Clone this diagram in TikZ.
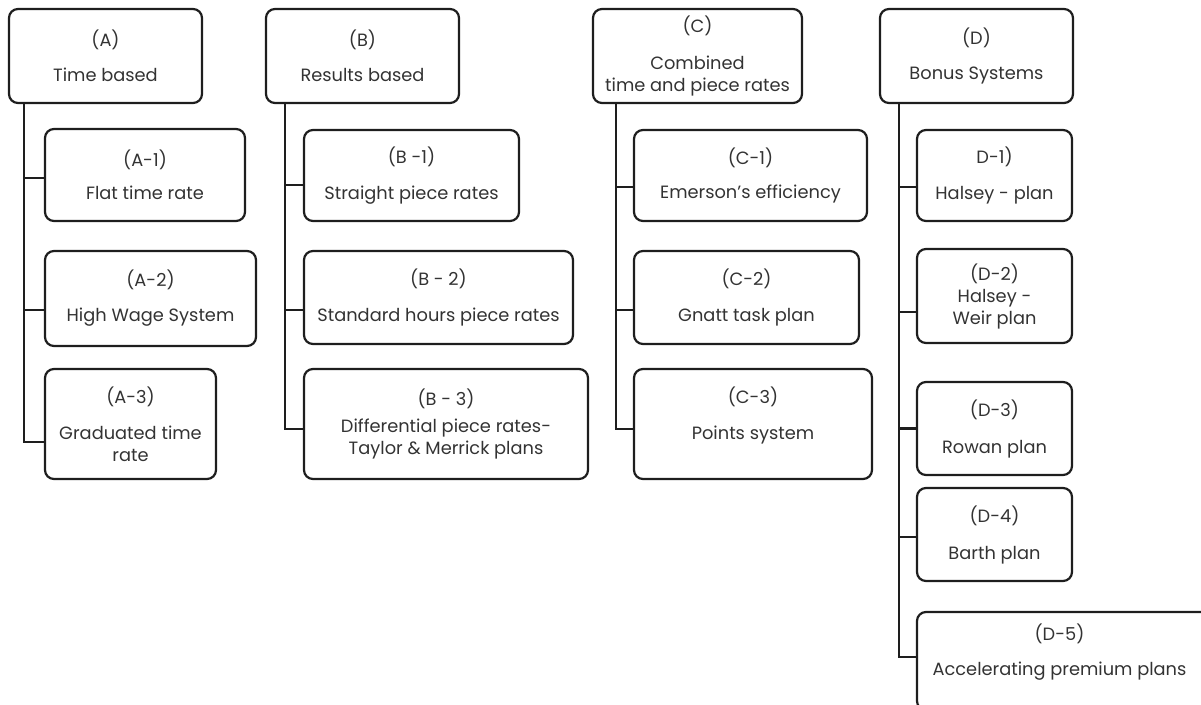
\documentclass[tikz,border=0pt]{standalone}
\usepackage{fontspec}
\setmainfont{Poppins}
\definecolor{boxline}{HTML}{1E1E1E}
\definecolor{boxtext}{HTML}{333333}
\tikzset{
  plan/.style={draw=boxline, line width=2.2pt, rounded corners=9pt, align=center,
    inner sep=0pt, text=boxtext, font=\fontsize{17.8}{22}\selectfont},
  trunk/.style={draw=boxline, line width=2.2pt}
}
\begin{document}
\begin{tikzpicture}[x=1pt,y=-1pt]
\clip (0,0) rectangle (1201,704);
% main groups
\node[plan, minimum width=193pt, minimum height=94pt] (A) at (105.5,56) {(A)\\[13pt]Time based};
\node[plan, minimum width=193pt, minimum height=94pt] (B) at (362.5,56) {(B)\\[13pt]Results based};
\node[plan, minimum width=209pt, minimum height=94pt] (C) at (697.5,56) {(C)\\[15pt]Combined\\time and piece rates};
\node[plan, minimum width=193pt, minimum height=94pt] (D) at (976.5,56) {(D)\\[13pt]Bonus Systems};
% time based
\node[plan, minimum width=200pt, minimum height=92pt] (A1) at (145,175) {(A-1)\\[11pt]Flat time rate};
\node[plan, minimum width=211pt, minimum height=95pt] (A2) at (150.5,298.5) {(A-2)\\[13pt]High Wage System};
\node[plan, minimum width=171pt, minimum height=110pt] (A3) at (130.5,424) {(A-3)\\[14pt]Graduated time\\rate};
% results based
\node[plan, minimum width=215pt, minimum height=91pt] (B1) at (411.5,175.5) {(B -1)\\[14pt]Straight piece rates};
\node[plan, minimum width=269pt, minimum height=93pt] (B2) at (438.5,297.5) {(B - 2)\\[14pt]Standard hours piece rates};
\node[plan, minimum width=284pt, minimum height=110pt] (B3) at (446,424) {(B - 3)\\[5pt]Differential piece rates-\\Taylor \& Merrick plans};
% combined
\node[plan, minimum width=233pt, minimum height=91pt] (C1) at (750.5,175.5) {(C-1)\\[12pt]Emerson’s efficiency};
\node[plan, minimum width=225pt, minimum height=93pt] (C2) at (746.5,297.5) {(C-2)\\[14pt]Gnatt task plan};
\node[plan, minimum width=238pt, minimum height=110pt] (C3) at (753,424) {(C-3)\\[14pt]Points system\\\mbox{}};
% bonus
\node[plan, minimum width=155pt, minimum height=91pt] (D1) at (994.5,175.5) {D-1)\\[14pt]Halsey - plan};
\node[plan, minimum width=155pt, minimum height=94pt] (D2) at (994.5,296) {(D-2)\\Halsey -\\Weir plan};
\node[plan, minimum width=155pt, minimum height=93pt] (D3) at (994.5,428.5) {(D-3)\\[15pt]Rowan plan};
\node[plan, minimum width=155pt, minimum height=93pt] (D4) at (994.5,534.5) {(D-4)\\[15pt]Barth plan};
\node[plan, minimum width=300pt, minimum height=98pt] (D5) at (1067,661) {\hspace*{-15pt}(D-5)\\[13pt]\hspace*{-15pt}Accelerating premium plans\\\mbox{}};
% connectors
\foreach \n/\s in {A1/-3,A2/-11.5,A3/-18}
  \draw[trunk] ([xshift=16pt]A.south west) |- ([yshift=\s pt]\n.west);
\foreach \n/\s in {B1/-9.5,B2/-12.5,B3/-5}
  \draw[trunk] ([xshift=20pt]B.south west) |- ([yshift=\s pt]\n.west);
\foreach \n/\s in {C1/-11.5,C2/-12.5,C3/-5}
  \draw[trunk] ([xshift=24pt]C.south west) |- ([yshift=\s pt]\n.west);
\foreach \n/\s in {D1/-11.5,D2/-16,D3/0,D4/-2.5,D5/4}
  \draw[trunk] ([xshift=20pt]D.south west) |- ([yshift=\s pt]\n.west);
\end{tikzpicture}
\end{document}
